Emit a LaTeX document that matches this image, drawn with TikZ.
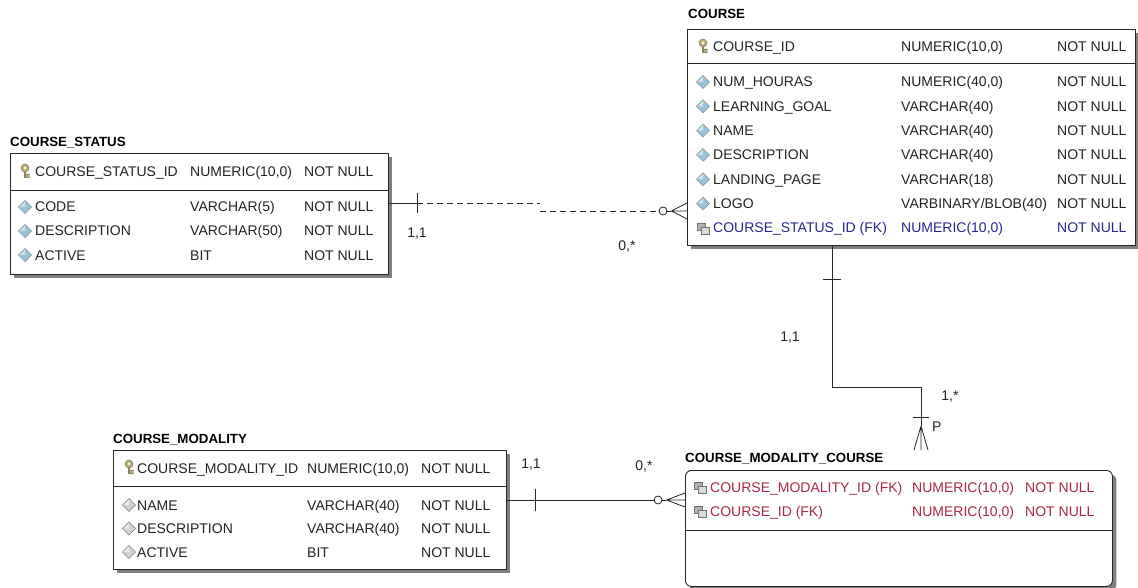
\documentclass[tikz,border=0pt]{standalone}
\usepackage{fontspec}
\setmainfont{Liberation Sans}
\usetikzlibrary{shadows}
\definecolor{inkgray}{RGB}{35,35,35}
\definecolor{fkred}{RGB}{170,40,70}
\definecolor{fkblue}{RGB}{35,40,140}
\definecolor{attrblue}{RGB}{150,196,220}
\definecolor{keygold}{RGB}{190,175,110}
\tikzset{
  table box/.style={
    draw=black!85,
    line width=0.9pt,
    fill=white,
    anchor=north west,
    inner sep=0pt,
    drop shadow={shadow xshift=4pt, shadow yshift=-4pt, fill=black!50, opacity=1},
  },
  table title/.style={
    anchor=base west,
    inner sep=0pt,
    font=\bfseries\fontsize{13.3}{15}\selectfont,
  },
  cell/.style={
    anchor=base west,
    inner sep=0pt,
    text=inkgray,
    font=\fontsize{14}{16}\selectfont,
  },
  card/.style={
    inner sep=0pt,
    text=inkgray,
    font=\fontsize{14}{16}\selectfont,
  },
  sep line/.style={draw=black!85, line width=0.9pt},
  link/.style={draw=black!85, line width=0.8pt},
  crow circle/.style={circle, draw=black!85, line width=0.8pt, fill=white, inner sep=0pt, minimum size=8pt},
  pk key/.pic={
    \fill[keygold!75!black] (-1.2,-1) rectangle (1.2,7);
    \fill[keygold!75!black] (1,3) rectangle (4.5,4.6) (1,5.4) rectangle (4.5,7);
    \draw[black!55, fill=keygold, line width=0.5pt] (0,-3) circle (4pt);
    \fill[white] (0,-3) circle (1.3pt);
  },
  attr/.pic={
    \draw[black!45, fill=attrblue, line width=0.5pt] (0,-6.5) -- (6.5,0) -- (0,6.5) -- (-6.5,0) -- cycle;
    \fill[white, opacity=0.55] (0,-5.5) -- (-5.5,0) -- (0,0) -- cycle;
  },
  attr gray/.pic={
    \draw[black!50, fill=black!18, line width=0.5pt] (0,-6.5) -- (6.5,0) -- (0,6.5) -- (-6.5,0) -- cycle;
    \fill[white, opacity=0.6] (0,-5.5) -- (-5.5,0) -- (0,0) -- cycle;
  },
  fk icon/.pic={
    \draw[black!55, fill=black!30, line width=0.5pt] (-6,-5) rectangle (2,2);
    \draw[black!55, fill=black!15, line width=0.5pt] (-2,-1) rectangle (6,6);
  },
}

\begin{document}
\begin{tikzpicture}[x=1pt, y=-1pt]
    \useasboundingbox (0,0) rectangle (1138,588);

    % COURSE
    \node [table title] (tcourse) at (688,19) {COURSE};
    \node [table box, minimum width=448pt, minimum height=216pt] (course) at (687,29) {};
    \draw [sep line] (687,63) -- (1135,63);
    \pic at (703,46) {pk key};
    \node [cell] (c1) at (713,52) {COURSE\_ID};
    \node [cell] (c1t) at (901,52) {NUMERIC(10,0)};
    \node [cell] (c1n) at (1057,52) {NOT NULL};
    \pic at (703,82) {attr};
    \node [cell] (c2) at (713,87) {NUM\_HOURAS};
    \node [cell] (c2t) at (901,87) {NUMERIC(40,0)};
    \node [cell] (c2n) at (1057,87) {NOT NULL};
    \pic at (703,106.3) {attr};
    \node [cell] (c3) at (713,111.3) {LEARNING\_GOAL};
    \node [cell] (c3t) at (901,111.3) {VARCHAR(40)};
    \node [cell] (c3n) at (1057,111.3) {NOT NULL};
    \pic at (703,130.6) {attr};
    \node [cell] (c4) at (713,135.6) {NAME};
    \node [cell] (c4t) at (901,135.6) {VARCHAR(40)};
    \node [cell] (c4n) at (1057,135.6) {NOT NULL};
    \pic at (703,154.9) {attr};
    \node [cell] (c5) at (713,159.9) {DESCRIPTION};
    \node [cell] (c5t) at (901,159.9) {VARCHAR(40)};
    \node [cell] (c5n) at (1057,159.9) {NOT NULL};
    \pic at (703,179.2) {attr};
    \node [cell] (c6) at (713,184.2) {LANDING\_PAGE};
    \node [cell] (c6t) at (901,184.2) {VARCHAR(18)};
    \node [cell] (c6n) at (1057,184.2) {NOT NULL};
    \pic at (703,203.5) {attr};
    \node [cell] (c7) at (713,208.5) {LOGO};
    \node [cell] (c7t) at (901,208.5) {VARBINARY/BLOB(40)};
    \node [cell] (c7n) at (1057,208.5) {NOT NULL};
    \pic at (703,227.8) {fk icon};
    \node [cell, text=fkblue] (c8) at (713,232.8) {COURSE\_STATUS\_ID (FK)};
    \node [cell, text=fkblue] (c8t) at (901,232.8) {NUMERIC(10,0)};
    \node [cell, text=fkblue] (c8n) at (1057,232.8) {NOT NULL};

    % COURSE_STATUS
    \node [table title] (tstatus) at (10,147) {COURSE\_STATUS};
    \node [table box, minimum width=378pt, minimum height=121pt] (status) at (10,153) {};
    \draw [sep line] (10,190) -- (388,190);
    \pic at (25,171) {pk key};
    \node [cell] (s1) at (35,177) {COURSE\_STATUS\_ID};
    \node [cell] (s1t) at (190,177) {NUMERIC(10,0)};
    \node [cell] (s1n) at (304,177) {NOT NULL};
    \pic at (25,207) {attr};
    \node [cell] (s2) at (35,212) {CODE};
    \node [cell] (s2t) at (190,212) {VARCHAR(5)};
    \node [cell] (s2n) at (304,212) {NOT NULL};
    \pic at (25,231) {attr};
    \node [cell] (s3) at (35,236) {DESCRIPTION};
    \node [cell] (s3t) at (190,236) {VARCHAR(50)};
    \node [cell] (s3n) at (304,236) {NOT NULL};
    \pic at (25,255) {attr};
    \node [cell] (s4) at (35,260) {ACTIVE};
    \node [cell] (s4t) at (190,260) {BIT};
    \node [cell] (s4n) at (304,260) {NOT NULL};

    % COURSE_MODALITY
    \node [table title] (tmodality) at (113,443) {COURSE\_MODALITY};
    \node [table box, minimum width=393pt, minimum height=119pt] (modality) at (113,450) {};
    \draw [sep line] (113,486) -- (506,486);
    \pic at (129,467) {pk key};
    \node [cell] (m1) at (137,473) {COURSE\_MODALITY\_ID};
    \node [cell] (m1t) at (307,473) {NUMERIC(10,0)};
    \node [cell] (m1n) at (421,473) {NOT NULL};
    \pic at (129,505) {attr gray};
    \node [cell] (m2) at (137,510) {NAME};
    \node [cell] (m2t) at (307,510) {VARCHAR(40)};
    \node [cell] (m2n) at (421,510) {NOT NULL};
    \pic at (129,528.5) {attr gray};
    \node [cell] (m3) at (137,533.5) {DESCRIPTION};
    \node [cell] (m3t) at (307,533.5) {VARCHAR(40)};
    \node [cell] (m3n) at (421,533.5) {NOT NULL};
    \pic at (129,552) {attr gray};
    \node [cell] (m4) at (137,557) {ACTIVE};
    \node [cell] (m4t) at (307,557) {BIT};
    \node [cell] (m4n) at (421,557) {NOT NULL};

    % COURSE_MODALITY_COURSE
    \node [table title] (tmodcourse) at (685,462) {COURSE\_MODALITY\_COURSE};
    \node [table box, rounded corners=6pt, minimum width=427pt, minimum height=116pt] (modcourse) at (685,470) {};
    \draw [sep line] (685,530) -- (1112,530);
    \pic at (700,487) {fk icon};
    \node [cell, text=fkred] (x1) at (710,492) {COURSE\_MODALITY\_ID (FK)};
    \node [cell, text=fkred] (x1t) at (912,492) {NUMERIC(10,0)};
    \node [cell, text=fkred] (x1n) at (1025,492) {NOT NULL};
    \pic at (700,511) {fk icon};
    \node [cell, text=fkred] (x2) at (710,516) {COURSE\_ID (FK)};
    \node [cell, text=fkred] (x2t) at (912,516) {NUMERIC(10,0)};
    \node [cell, text=fkred] (x2n) at (1025,516) {NOT NULL};

    % COURSE_STATUS -> COURSE
    \coordinate (t1) at (417,203);
    \coordinate (k1) at (540,203);
    \coordinate (k2) at (540,211);
    \node [crow circle] (o1) at (663,211) {};
    \draw [link] (status.east |- t1) -- (t1);
    \draw [link] ([yshift=10pt]t1) -- ([yshift=-10pt]t1);
    \draw [link, dash pattern=on 6pt off 4pt] (t1) -- (k1);
    \draw [link, dash pattern=on 6pt off 4pt] (k2) -- (o1);
    \draw [link] (o1.east) -- ++(4,0) coordinate (a1);
    \draw [link] (a1) -- (course.west |- 0,203) (a1) -- (course.west |- k2) (a1) -- (course.west |- 0,219);
    \node [card] (l1) at (417,234) {1,1};
    \node [card] (l2) at (627,247) {0,*};

    % COURSE -> COURSE_MODALITY_COURSE
    \coordinate (b1) at (832,387);
    \coordinate (b2) at (921,387);
    \coordinate (a2) at (921,426);
    \coordinate (f2) at (921,450);
    \draw [link] (course.south -| b1) -- (b1) -- (b2) -- (a2);
    \draw [link] ([xshift=-9pt]course.south -| b1) ++(0,33) -- ++(18,0);
    \draw [link] (913,417) -- (929,417);
    \draw [link] (a2) -- ([xshift=-7pt]f2) (a2) -- (f2) (a2) -- ([xshift=7pt]f2);
    \node [card] (l3) at (790,338) {1,1};
    \node [card] (l4) at (950,397) {1,*};
    \node [card, anchor=west] (l5) at (932,427) {P};

    % COURSE_MODALITY -> COURSE_MODALITY_COURSE
    \coordinate (t3) at (535,500);
    \node [crow circle] (o2) at (658,500) {};
    \draw [link] (modality.east |- t3) -- (o2);
    \draw [link] ([yshift=11pt]t3) -- ([yshift=-11pt]t3);
    \draw [link] (o2.east) -- ++(4,0) coordinate (a3);
    \draw [link] (a3) -- (modcourse.west |- 0,493) (a3) -- (modcourse.west |- t3) (a3) -- (modcourse.west |- 0,507);
    \node [card] (l6) at (531,465) {1,1};
    \node [card] (l7) at (644,467) {0,*};
\end{tikzpicture}
\end{document}
